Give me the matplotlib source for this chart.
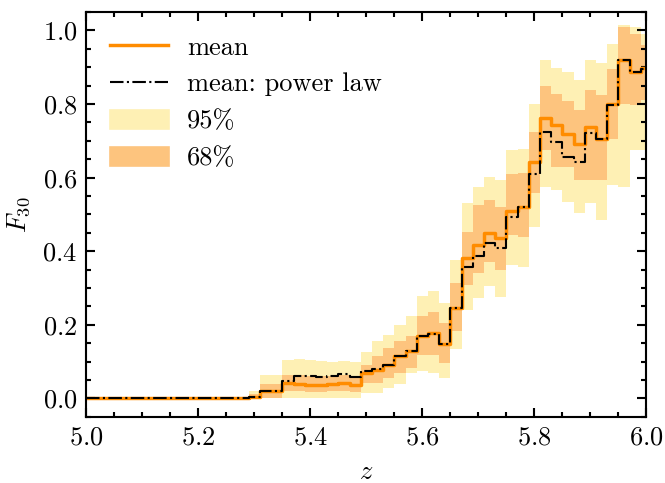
# Importing the Relevant Modules
import matplotlib.pyplot as plt
from matplotlib.patches import Patch
from matplotlib.lines import Line2D

plt.rcParams['font.family'] = 'serif'
plt.rcParams['font.serif'] = ['cmr10']
plt.rcParams['mathtext.fontset'] = 'cm'
plt.rcParams['axes.formatter.use_mathtext'] = True
plt.rcParams['font.size'] = 10
plt.rcParams['axes.linewidth'] = 0.8

# Data

z = [5.00, 5.02, 5.04, 5.06, 5.08, 5.10, 5.12, 5.14, 5.16, 5.18,
     5.20, 5.22, 5.24, 5.26, 5.28, 5.30, 5.32, 5.34, 5.36, 5.38,
     5.40, 5.42, 5.44, 5.46, 5.48, 5.50, 5.52, 5.54, 5.56, 5.58,
     5.60, 5.62, 5.64, 5.66, 5.68, 5.70, 5.72, 5.74, 5.76, 5.78,
     5.80, 5.82, 5.84, 5.86, 5.88, 5.90, 5.92, 5.94, 5.96, 5.98,
     6.00]

mean = [0, 0, 0, 0, 0, 0, 0, 0, 0, 0,
        0, 0, 0, 0, 0, 0.004, 0.021, 0.021, 0.042, 0.040,
        0.036, 0.036, 0.038, 0.042, 0.036, 0.068, 0.078, 0.092, 0.115, 0.130,
        0.169, 0.178, 0.149, 0.246, 0.381, 0.417, 0.449, 0.435, 0.509, 0.521,
        0.643, 0.763, 0.743, 0.720, 0.691, 0.738, 0.706, 0.799, 0.919, 0.887,
        0.899]

mean_pl = [0, 0, 0, 0, 0, 0, 0, 0, 0, 0,
           0, 0, 0, 0, 0, 0.004, 0.021, 0.021, 0.047, 0.060,
           0.060, 0.058, 0.060, 0.066, 0.058, 0.074, 0.080, 0.092, 0.115, 0.130,
           0.169, 0.175, 0.149, 0.246, 0.356, 0.386, 0.422, 0.408, 0.494, 0.521,
           0.609, 0.724, 0.697, 0.657, 0.643, 0.722, 0.706, 0.797, 0.919, 0.887,
           0.895]

lo68 = [0, 0, 0, 0, 0, 0, 0, 0, 0, 0,
        0, 0, 0, 0, 0, 0.0, 0.0, 0.0, 0.020, 0.020,
        0.018, 0.018, 0.019, 0.020, 0.018, 0.043, 0.043, 0.056, 0.070, 0.083,
        0.119, 0.119, 0.097, 0.182, 0.309, 0.342, 0.372, 0.350, 0.444, 0.440,
        0.557, 0.675, 0.630, 0.630, 0.593, 0.593, 0.593, 0.706, 0.800, 0.797,
        0.810]

hi68 = [0, 0, 0, 0, 0, 0, 0, 0, 0, 0,
        0, 0, 0, 0, 0, 0.012, 0.040, 0.040, 0.064, 0.063,
        0.062, 0.061, 0.062, 0.064, 0.060, 0.092, 0.115, 0.137, 0.155, 0.169,
        0.223, 0.234, 0.205, 0.313, 0.453, 0.526, 0.540, 0.520, 0.610, 0.612,
        0.724, 0.848, 0.828, 0.808, 0.785, 0.837, 0.824, 0.896, 1.010, 0.990,
        0.960]

lo95 = [0, 0, 0, 0, 0, 0, 0, 0, 0, 0,
        0, 0, 0, 0, 0, 0.0, 0.0, 0.0, 0.0, 0.0,
        0.0, 0.0, 0.0, 0.0, 0.0, 0.016, 0.016, 0.029, 0.038, 0.070,
        0.074, 0.070, 0.056, 0.133, 0.241, 0.273, 0.305, 0.277, 0.363, 0.358,
        0.467, 0.575, 0.566, 0.535, 0.505, 0.531, 0.485, 0.580, 0.575, 0.675,
        0.675]

hi95 = [0, 0, 0, 0, 0, 0, 0, 0, 0, 0,
        0, 0, 0, 0, 0, 0.020, 0.064, 0.064, 0.104, 0.106,
        0.104, 0.102, 0.100, 0.101, 0.098, 0.126, 0.155, 0.173, 0.200, 0.225,
        0.279, 0.293, 0.259, 0.377, 0.530, 0.575, 0.602, 0.593, 0.675, 0.679,
        0.801, 0.919, 0.899, 0.887, 0.866, 0.920, 0.911, 0.964, 1.015, 1.010,
        0.990]

# Colours
c95 = '#fef0b4'
c68 = '#fdc47e'
cmean = '#ff8c00'

# Plotting

fig = plt.figure(figsize=(665 / 190, 483 / 190), dpi=190)
ax = fig.add_axes([0.130, 0.137, 0.842, 0.838])

ax.fill_between(z, lo95, hi95, step='mid', color=c95, linewidth=0)
ax.fill_between(z, lo68, hi68, step='mid', color=c68, linewidth=0)
ax.plot(z, mean, drawstyle='steps-mid', color=cmean, linewidth=1.3)
ax.plot(z, mean_pl, drawstyle='steps-mid', color='black', linestyle='-.', linewidth=0.8)

ax.set_xlim(5.0, 6.0)
ax.set_ylim(-0.05, 1.05)
ax.set_xticks([5.0, 5.2, 5.4, 5.6, 5.8, 6.0])
ax.set_yticks([0.0, 0.2, 0.4, 0.6, 0.8, 1.0])
ax.minorticks_on()
ax.tick_params(which='both', direction='in', top=True, right=True, width=0.8)
ax.tick_params(which='major', length=3.5)
ax.tick_params(which='minor', length=1.8)
ax.xaxis.set_minor_locator(plt.MultipleLocator(0.05))
ax.yaxis.set_minor_locator(plt.MultipleLocator(0.05))

ax.set_xlabel('$z$')
ax.set_ylabel('$F_{30}$')

handles = [
    Line2D([], [], color=cmean, linewidth=1.3),
    Line2D([], [], color='black', linestyle='-.', linewidth=0.8),
    Patch(color=c95),
    Patch(color=c68),
]
labels = ['mean', 'mean: power law', '95%', '68%']
ax.legend(handles, labels, loc='upper left', frameon=False,
          handlelength=2.2, handletextpad=0.7)

fig.savefig('out.png', dpi=190)
